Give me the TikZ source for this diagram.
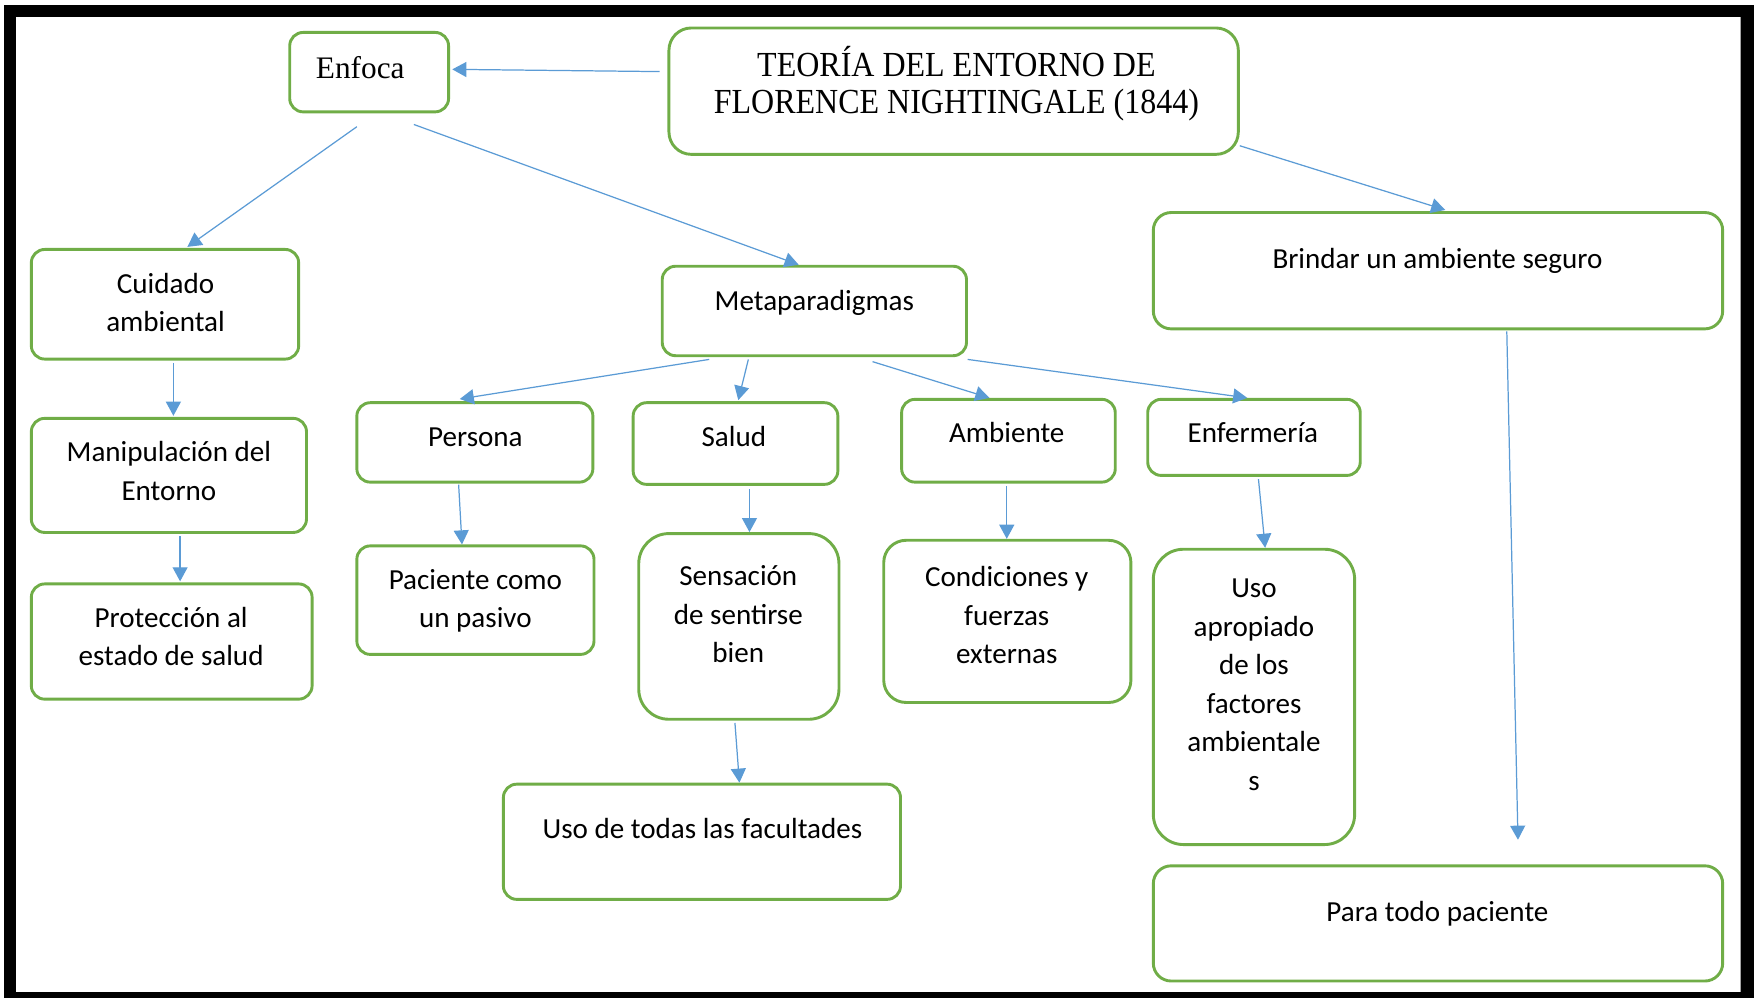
\documentclass[tikz,border=0pt]{standalone}
\usepackage{fontspec}
\setmainfont{Carlito}
\newfontfamily\tnr{Liberation Serif}
\usetikzlibrary{arrows.meta,calc,fit}
\definecolor{gborder}{HTML}{70AD47}
\definecolor{barrow}{HTML}{5B9BD5}
\begin{document}
\begin{tikzpicture}[x=0.5pt,y=-0.5pt,
  box/.style={draw=gborder, line width=1.3pt, rounded corners=6pt, inner sep=0pt},
  lbl/.style={inner sep=0pt, align=center, font=\fontsize{13}{17.2}\selectfont},
  serif/.style={inner sep=0pt, align=center, font=\tnr\fontsize{14.3}{14.9}\selectfont},
  arr/.style={draw=barrow, line width=0.55pt, -{Triangle[length=6.3pt,width=6.7pt]}}]

\useasboundingbox (0,0) rectangle (1568,892);
\fill[black, even odd rule] (3.6,4.5) rectangle (1568,892) (14.3,15.2) rectangle (1556,887);

% boxes
\node[box, fit={(259,29) (401,100)}] (enf) {};
\node[box, rounded corners=10pt, fit={(598,25) (1107,138)}] (title) {};
\node[box, fit={(28,223) (267,321)}] (cuid) {};
\node[box, fit={(28,374) (274,476)}] (mani) {};
\node[box, fit={(28,522) (279,625)}] (prot) {};
\node[box, fit={(592,238) (864,318)}] (meta) {};
\node[box, fit={(319,360) (530,431)}] (pers) {};
\node[box, fit={(566,360) (749,433)}] (salud) {};
\node[box, fit={(806,357) (997,431)}] (amb) {};
\node[box, fit={(1026,357) (1216,425)}] (enfer) {};
\node[box, fit={(319,488) (531,585)}] (pac) {};
\node[box, rounded corners=13.5pt, fit={(571,477) (750,643)}] (sens) {};
\node[box, rounded corners=10pt, fit={(790,483) (1011,628)}] (cond) {};
\node[box, rounded corners=13.5pt, fit={(1031,491) (1211,755)}] (usoap) {};
\node[box, fit={(450,701) (805,804)}] (usotod) {};
\node[box, rounded corners=8pt, fit={(1031,190) (1540,294)}] (brin) {};
\node[box, rounded corners=8pt, fit={(1031,774) (1540,877)}] (para) {};

% texts
\node[serif, font=\tnr\fontsize{14}{16}\selectfont, anchor=base west] (tenf) at (282,70) {Enfoca};
\node[serif, anchor=base] (ttitle) at (855,68.5) {\scalebox{1}[1.1]{\begin{tabular}[t]{@{}c@{}}TEORÍA DEL ENTORNO DE\\FLORENCE NIGHTINGALE (1844)\end{tabular}}};
\node[lbl] (tcuid) at (148,270.5) {Cuidado\\ambiental};
\node[lbl] (tmani) at (151,421) {Manipulación del\\Entorno};
\node[lbl] (tprot) at (153,569) {Protección al\\estado de salud};
\node[lbl, anchor=base] (tmeta) at (728,278) {Metaparadigmas};
\node[lbl, anchor=base] (tpers) at (425,399) {Persona};
\node[lbl, anchor=base] (tsalud) at (656,399) {Salud};
\node[lbl, anchor=base] (tamb) at (900,396) {Ambiente};
\node[lbl, anchor=base] (tenfer) at (1120,396) {Enfermería};
\node[lbl] (tpac) at (425,537) {Paciente como\\un pasivo};
\node[lbl] (tsens) at (660,549) {Sensación\\de sentirse\\bien};
\node[lbl] (tcond) at (900,550) {Condiciones y\\fuerzas\\externas};
\node[lbl] (tusoap) at (1121,612) {Uso\\apropiado\\de los\\factores\\ambientale\\s};
\node[lbl, anchor=base] (tusotod) at (628,750) {Uso de todas las facultades};
\node[lbl, anchor=base] (tbrin) at (1285,240) {Brindar un ambiente seguro};
\node[lbl, anchor=base] (tpara) at (1285,824) {Para todo paciente};

% connectors
\draw[arr] ($(title.west)+(-7,-17.5)$) -- ($(enf.east)+(2,-2.5)$);
\draw[arr] ($(enf.south)+(-11,12)$) -- ($(cuid.north)+(20,-1)$);
\draw[arr] ($(enf.south)+(40,10)$) -- ($(meta.north)+(-14,0)$);
\draw[arr] ($(title.south east)+(0,-9)$) -- ($(brin.north)+(6.5,-1)$);
\draw[arr] ($(brin.south)+(61.5,1)$) -- ($(para.north)+(71.5,-22)$);
\draw[arr] ($(cuid.south)+(7.5,2)$) -- ($(mani.north)+(4,-1)$);
\draw[arr] ($(mani.south)+(10,2)$) -- ($(prot.north)+(7.5,-1)$);
\draw[arr] ($(meta.south)+(-94,2)$) -- ($(pers.north)+(-13.5,-2)$);
\draw[arr] ($(meta.south)+(-59,2)$) -- ($(salud.north)+(2.5,-1)$);
\draw[arr] ($(meta.south)+(52,4)$) -- ($(amb.north)+(-17,0)$);
\draw[arr] ($(meta.south)+(137,2)$) -- ($(enfer.north)+(-6,0)$);
\draw[arr] ($(pers.south)+(-14.5,1)$) -- ($(pac.north)+(-12,0)$);
\draw[arr] ($(salud.south)+(12.5,3)$) -- ($(sens.north)+(9.5,0)$);
\draw[arr] ($(amb.south)+(-1.5,2)$) -- ($(cond.north)+(-0.5,0)$);
\draw[arr] ($(enfer.south)+(4,2)$) -- ($(usoap.north)+(10,0)$);
\draw[arr] ($(sens.south)+(-3.5,2)$) -- ($(usotod.north)+(33.5,0)$);
\end{tikzpicture}
\end{document}
